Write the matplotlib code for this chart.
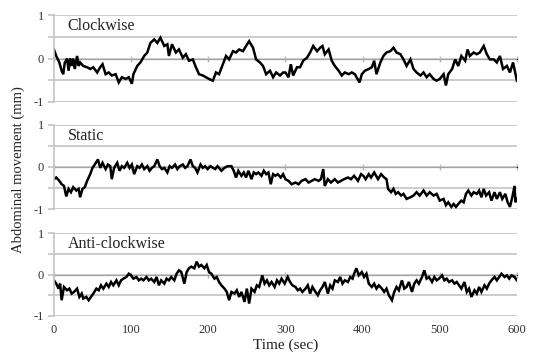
import matplotlib
matplotlib.use("Agg")
import matplotlib.pyplot as plt

plt.rcParams["font.family"] = ["Liberation Serif", "DejaVu Serif"]

# clockwise trace
cw_t = [0, 3, 7, 10, 12, 14, 17, 19, 21, 23, 25, 27, 30, 32, 34, 38, 43, 47, 51, 56,
        60, 63, 67, 71, 75, 80, 84, 88, 93, 97, 101, 103, 108, 112, 117, 121, 125, 130, 134, 138,
        143, 147, 149, 153, 158, 162, 167, 171, 175, 180, 184, 188, 193, 197, 201, 206, 210, 214, 219, 223,
        227, 232, 236, 240, 245, 249, 253, 258, 262, 267, 271, 275, 280, 284, 288, 293, 297,
        300, 304, 307, 310, 315, 319, 323, 328, 332, 336, 341, 345, 348, 351, 356, 360, 364, 369, 373, 377,
        382, 386, 390, 396, 399, 403, 408, 412, 415, 418, 423, 427, 431, 436, 440, 444, 449, 453, 457, 462,
        466, 470, 475, 479, 483, 487, 492, 496, 500, 505, 508, 511, 516, 520, 524, 528, 533, 536, 539, 544,
        548, 552, 557, 561, 565, 570, 574, 578, 582, 587, 591, 595, 600]
cw_v = [0.21, 0.06, -0.09, -0.28, -0.36, -0.10, 0.00, -0.28, 0.00, -0.17,
        0.00, -0.24, 0.06, -0.17, -0.09, -0.17, -0.20, -0.24, -0.20, -0.32,
        -0.20, -0.13, -0.36, -0.32, -0.39, -0.36, -0.55, -0.43, -0.47, -0.43,
        -0.58, -0.36, -0.17, -0.09, 0.06, 0.14, 0.36, 0.44, 0.36, 0.48,
        0.29, 0.33, 0.06, 0.33, 0.14, 0.21, 0.02, 0.10, -0.05, -0.02,
        -0.20, -0.36, -0.39, -0.43, -0.47, -0.51, -0.32, -0.36, -0.13, 0.06,
        -0.02, 0.17, 0.14, 0.21, 0.17, 0.29, 0.40, 0.25, -0.02, -0.09,
        -0.17, -0.36, -0.28, -0.43, -0.32, -0.39, -0.32,
        -0.32, -0.43, -0.13, -0.39, -0.20, -0.20, -0.05, 0.02, 0.14, 0.29,
        0.17, 0.25, 0.29, 0.10, 0.21, -0.05, -0.17, -0.28, -0.39, -0.32,
        -0.36, -0.32, -0.36, -0.55, -0.36, -0.28, -0.24, -0.20, -0.05, -0.36,
        -0.09, 0.06, 0.14, 0.17, 0.25, 0.14, 0.10, -0.02, -0.17, -0.02,
        -0.24, -0.32, -0.39, -0.32, -0.43, -0.36, -0.47, -0.51, -0.47, -0.36,
        -0.62, -0.36, -0.24, -0.02, -0.17, 0.06, -0.05, 0.21, 0.06, 0.14,
        0.10, 0.14, 0.29, 0.10, -0.02, -0.02, -0.09, 0.06, -0.24, -0.17,
        -0.32, -0.09, -0.51]

# static trace
st_t = [0, 3, 7, 10, 13, 16, 19, 22, 25, 29, 32, 34, 37, 40, 43, 47, 50, 53, 57, 60,
        63, 67, 70, 73, 75, 78, 82, 85, 88, 91, 95, 98, 101, 104, 108, 111, 114, 117, 121, 124,
        127, 130, 134, 137, 140, 143, 147, 150, 153, 157, 160, 163, 167, 170, 173, 177, 180, 183, 186, 190,
        193, 196, 199, 203, 206, 209, 212, 217, 221, 225, 230, 233, 236, 239, 243, 246, 249, 252, 256, 259,
        262, 265, 269, 272, 275, 278, 281, 284, 287, 290, 294, 297,
        300, 304, 308, 313, 317, 321, 326, 330, 334, 338, 343, 346, 349, 351, 355, 359, 364, 368, 372, 376,
        381, 385, 389, 394, 398, 401, 404, 408, 411, 415, 420, 424, 428, 431, 433, 437, 440, 443, 446, 450,
        453, 457, 462, 466, 470, 474, 479, 483, 487, 492, 496, 500, 505, 508, 511, 515, 518, 521, 524, 528,
        531, 534, 537, 541, 544, 548, 551, 554, 557, 560, 564, 567, 571, 574, 578, 581, 585, 588, 591, 594,
        597, 598, 600]
st_v = [-0.29, -0.25, -0.33, -0.41, -0.45, -0.70, -0.52, -0.60, -0.48, -0.56,
        -0.52, -0.72, -0.52, -0.48, -0.33, -0.17, -0.02, 0.06, 0.18, -0.02,
        0.10, -0.05, 0.06, 0.02, -0.29, -0.02, 0.10, -0.09, 0.02, -0.02,
        0.10, -0.02, 0.06, -0.17, 0.02, -0.02, 0.06, -0.05, 0.02, -0.09,
        -0.02, 0.02, 0.18, 0.02, -0.05, -0.02, -0.13, 0.02, -0.02, 0.06,
        -0.05, 0.02, 0.06, -0.02, 0.02, 0.18, 0.02, -0.02, -0.13, 0.06,
        -0.02, 0.02, -0.05, 0.02, -0.02, -0.05, 0.02, -0.09, -0.02, 0.02,
        0.02, -0.09, -0.25, -0.09, -0.21, -0.13, -0.25, -0.09, -0.29, -0.13,
        -0.17, -0.13, -0.21, -0.09, -0.17, -0.13, -0.41, -0.17, -0.21, -0.17,
        -0.25, -0.17,
        -0.29, -0.33, -0.41, -0.37, -0.41, -0.33, -0.29, -0.37, -0.33, -0.29,
        -0.33, -0.29, -0.05, -0.45, -0.29, -0.37, -0.29, -0.37, -0.33, -0.29,
        -0.25, -0.29, -0.21, -0.33, -0.17, -0.21, -0.29, -0.17, -0.25, -0.13,
        -0.29, -0.17, -0.25, -0.29, -0.52, -0.60, -0.52, -0.64, -0.60, -0.68,
        -0.64, -0.76, -0.72, -0.68, -0.60, -0.68, -0.56, -0.68, -0.60, -0.68,
        -0.64, -0.80, -0.76, -0.91, -0.84, -0.95, -0.88, -0.95, -0.88, -0.80,
        -0.84, -0.64, -0.56, -0.68, -0.60, -0.64, -0.56, -0.72, -0.52, -0.68,
        -0.60, -0.80, -0.60, -0.76, -0.60, -0.76, -0.64, -0.84, -0.95, -0.72,
        -0.45, -0.84, -0.76]

# anti-clockwise trace
ac_t = [0, 3, 6, 8, 10, 13, 17, 20, 23, 26, 30, 33, 36, 38, 42, 45, 48, 51, 55, 58,
        61, 64, 68, 71, 74, 77, 81, 84, 87, 90, 94, 97, 100, 103, 107, 110, 113, 116, 120, 123,
        126, 130, 133, 136, 139, 143, 146, 149, 152, 156, 159, 162, 165, 169, 172, 175, 178, 182, 185, 188,
        191, 195, 198, 201, 204, 208, 211, 214, 217, 221, 224, 227, 230, 234, 237, 240, 243, 247, 250, 253,
        256, 260, 263, 266, 270, 273, 276, 279, 282, 286, 289, 292, 295, 299,
        303, 306, 309, 313, 316, 319, 322, 326, 329, 332, 335, 339, 342, 345, 348, 351, 355, 358, 361, 364,
        368, 371, 374, 377, 381, 384, 387, 389, 392, 395, 399, 402, 405, 408, 412, 415, 418, 421, 425, 428,
        431, 434, 438, 441, 444, 447, 451, 454, 457, 460, 464, 467, 470, 473, 477, 480, 483, 486, 490, 493,
        496, 499, 503, 506, 509, 512, 516, 519, 522, 525, 528, 532, 535, 538, 541, 545, 548, 551, 554, 558,
        561, 564, 567, 571, 574, 577, 580, 584, 587, 590, 593, 597, 600]
ac_v = [-0.14, -0.22, -0.34, -0.22, -0.62, -0.30, -0.38, -0.34, -0.46, -0.42,
        -0.34, -0.54, -0.46, -0.58, -0.54, -0.62, -0.54, -0.46, -0.34, -0.38,
        -0.26, -0.34, -0.22, -0.30, -0.18, -0.26, -0.14, -0.26, -0.14, -0.10,
        -0.06, 0.02, -0.02, -0.10, -0.06, -0.14, -0.10, -0.14, -0.06, -0.14,
        -0.10, -0.18, -0.06, -0.26, -0.14, -0.22, -0.10, -0.14, -0.06, -0.14,
        0.02, 0.10, 0.06, -0.22, 0.06, 0.15, 0.19, 0.15, 0.31, 0.19,
        0.23, 0.15, 0.23, 0.06, 0.02, -0.10, -0.06, -0.18, -0.26, -0.34,
        -0.42, -0.62, -0.42, -0.46, -0.38, -0.54, -0.42, -0.66, -0.34, -0.70,
        -0.34, -0.42, -0.26, -0.30, -0.02, -0.22, -0.14, -0.26, -0.18, -0.30,
        -0.14, -0.22, -0.10, -0.22,
        -0.06, -0.18, -0.26, -0.30, -0.38, -0.34, -0.42, -0.34, -0.26, -0.46,
        -0.30, -0.42, -0.50, -0.38, -0.30, -0.18, -0.46, -0.26, -0.34, -0.14,
        -0.18, -0.06, -0.22, -0.14, -0.18, -0.06, -0.10, 0.02, 0.15, -0.02,
        0.06, -0.06, 0.02, -0.22, -0.30, -0.22, -0.34, -0.26, -0.34, -0.42,
        -0.34, -0.50, -0.62, -0.42, -0.30, -0.38, -0.14, -0.34, -0.30, -0.18,
        -0.42, -0.22, -0.14, -0.22, -0.06, 0.10, -0.10, -0.06, -0.18, -0.06,
        -0.14, -0.10, -0.02, -0.14, -0.10, -0.18, -0.14, -0.22, -0.18, -0.26,
        -0.34, -0.18, -0.42, -0.34, -0.54, -0.38, -0.46, -0.30, -0.42, -0.26,
        -0.34, -0.22, -0.14, -0.06, -0.14, -0.06, 0.02, -0.06, -0.02, -0.10,
        -0.02, -0.06, -0.14]

names = ["Clockwise", "Static", "Anti-clockwise"]
times = [cw_t, st_t, ac_t]
values = [cw_v, st_v, ac_v]
x_ticks = [0, 100, 200, 300, 400, 500, 600]
y_ticks = [-1, -0.5, 0, 0.5, 1]
y_labels = ["-1", "", "0", "", "1"]

fig = plt.figure(figsize=(5.34, 3.56), dpi=100)
boxes = [[0.101, 0.7135, 0.867, 0.244],
         [0.101, 0.4129, 0.867, 0.236],
         [0.101, 0.1124, 0.867, 0.233]]
grid_col = "#c4c4c4"

for i in range(3):
    ax = fig.add_axes(boxes[i])
    ax.plot(times[i], values[i], color="black", lw=1.8, solid_joinstyle="miter")
    ax.set_xlim(0, 600)
    ax.set_ylim(-1, 1)
    ax.set_yticks(y_ticks)
    ax.set_yticklabels(y_labels)
    ax.set_xticks(x_ticks)
    ax.grid(axis="y", color=grid_col, lw=1.2)
    for s in ["top", "right", "bottom"]:
        ax.spines[s].set_visible(False)
    ax.spines["left"].set_color(grid_col)
    ax.spines["left"].set_linewidth(1.2)
    ax.tick_params(axis="y", length=4, color=grid_col, width=1.2, labelsize=9,
                   pad=3, labelcolor="#333333")
    ax.tick_params(axis="x", length=0, labelsize=9, pad=6, labelcolor="#333333")
    if i < 2:
        ax.set_xticklabels([])
    # zero axis with small tick marks
    zx = ax.secondary_xaxis(0.5)
    zx.set_xticks(x_ticks)
    zx.set_xticklabels([])
    zx.spines["bottom"].set_color("#b8b8b8")
    zx.spines["bottom"].set_linewidth(1.2)
    zx.tick_params(length=5, direction="inout", color="#b8b8b8", width=1.0)
    ax.text(0.03, 0.87, names[i], transform=ax.transAxes, fontsize=11.5,
            va="center", color="#222222")

fig.text(0.034, 0.525, "Abdominal movement (mm)", rotation=90, fontsize=10.5,
         ha="center", va="center", color="#222222")
fig.text(0.534, 0.03, "Time (sec)", fontsize=11, ha="center", va="center",
         color="#222222")

fig.savefig("out.png", dpi=100)
